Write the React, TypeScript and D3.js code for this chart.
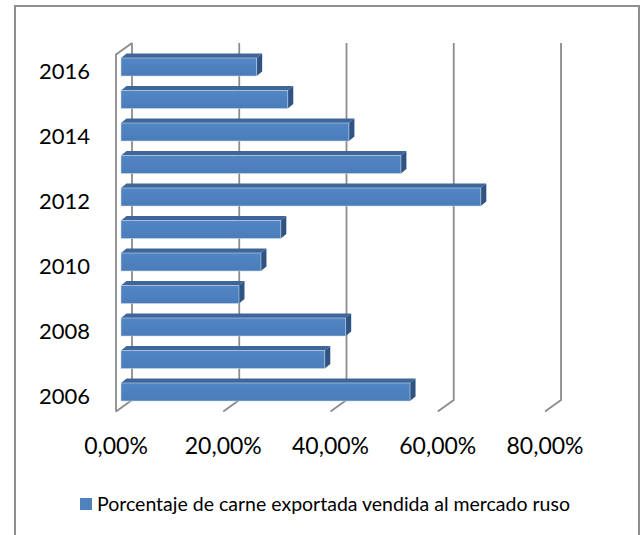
import { useEffect, useRef } from 'react'
import * as d3 from 'd3'

// Share of exported meat sold to the Russian market, by year
const years = [2006, 2007, 2008, 2009, 2010, 2011, 2012, 2013, 2014, 2015, 2016]
const shares = [0.539, 0.38, 0.419, 0.22, 0.261, 0.298, 0.671, 0.522, 0.425, 0.311, 0.253]
const xTicks = [0, 0.2, 0.4, 0.6, 0.8]
const yLabelYears = [2006, 2008, 2010, 2012, 2014, 2016]
const legendLabel = 'Porcentaje de carne exportada vendida al mercado ruso'

const W = 641
const H = 535
const FONT = 'Lato, "Open Sans", sans-serif'

export default function App() {
  const svgRef = useRef<SVGSVGElement>(null)

  useEffect(() => {
    const svg = d3.select(svgRef.current)
    if (!svgRef.current) return
    svg.selectAll('*').remove()

    // oblique 3d: back wall vs front plane offset
    const depth = { dx: 16, dy: -11.5 }
    const wallTop = 43
    const wallBottom = 400

    // x scale for the back wall
    const xBack = d3.scaleLinear().domain([0, 0.8]).range([132, 561])
    const xFront = (v: number) => xBack(v) - depth.dx
    // bars sit a bit behind the front plane
    const barOff = 5
    const xBar = (v: number) => xFront(v) + barOff

    const y = d3.scaleBand<number>()
      .domain([...years].reverse())
      .range([50.75, 408.25])
      .paddingInner(0.446)
      .paddingOuter(0.223)

    const grid = '#8c8c8c'

    // outer frame
    svg.append('path')
      .attr('d', `M15,${H + 5}V6H639V${H + 5}`)
      .attr('fill', 'none')
      .attr('stroke', '#8e8e8e')
      .attr('stroke-width', 2)

    // back-wall gridlines with their floor slants
    const gl = svg.append('g').attr('fill', 'none').attr('stroke', grid).attr('stroke-width', 1.8)
    xTicks.forEach(t => {
      gl.append('path')
        .attr('d', `M${xBack(t)},${wallTop}V${wallBottom}L${xFront(t)},${wallBottom - depth.dy}`)
    })
    // left side wall edge
    gl.append('path')
      .attr('d', `M${xBack(0)},${wallTop}L${xFront(0)},${wallTop - depth.dy}V${wallBottom - depth.dy}`)

    // bars
    const bdx = 5.5
    const bdy = -4.5
    const defs = svg.append('defs')
    const grad = defs.append('linearGradient').attr('id', 'barFront')
      .attr('x1', 0).attr('y1', 0).attr('x2', 0).attr('y2', 1)
    grad.append('stop').attr('offset', '0%').attr('stop-color', '#5286c4')
    grad.append('stop').attr('offset', '100%').attr('stop-color', '#4a7cb9')

    const bars = svg.append('g')
    years.forEach((yr, i) => {
      const x0 = xBar(0)
      const x1 = xBar(shares[i])
      const y0 = y(yr)!
      const h = y.bandwidth()
      const g = bars.append('g')
      // top face
      g.append('path')
        .attr('d', `M${x0},${y0}L${x0 + bdx},${y0 + bdy}L${x1 + bdx},${y0 + bdy}L${x1},${y0}Z`)
        .attr('fill', '#3e6698')
      // side face
      g.append('path')
        .attr('d', `M${x1},${y0}L${x1 + bdx},${y0 + bdy}L${x1 + bdx},${y0 + h + bdy}L${x1},${y0 + h}Z`)
        .attr('fill', '#2f5382')
      // front face
      g.append('rect')
        .attr('x', x0).attr('y', y0)
        .attr('width', x1 - x0).attr('height', h)
        .attr('fill', 'url(#barFront)')
        .attr('stroke', '#c9d8ec').attr('stroke-opacity', 0.7).attr('stroke-width', 0.8)
    })

    // y labels
    const yl = svg.append('g')
      .attr('font-family', FONT).attr('font-size', 22).attr('fill', '#000')
      .attr('text-anchor', 'end')
    yLabelYears.forEach(yr => {
      yl.append('text')
        .attr('x', 90)
        .attr('y', y(yr)! + y.bandwidth() / 2 + 4.5)
        .attr('dy', '0.36em')
        .text(yr)
    })

    // x labels
    const fmt = (v: number) => (v * 100).toFixed(2).replace('.', ',') + '%'
    const xl = svg.append('g')
      .attr('font-family', FONT).attr('font-size', 23).attr('fill', '#000')
      .attr('text-anchor', 'middle')
    xTicks.forEach(t => {
      xl.append('text')
        .attr('x', xFront(t))
        .attr('y', 446)
        .attr('dy', '0.36em')
        .text(fmt(t))
    })

    // legend
    const lg = svg.append('g')
    lg.append('rect').attr('x', 80).attr('y', 498).attr('width', 12).attr('height', 12).attr('fill', '#4f81bd')
    lg.append('text')
      .attr('x', 97).attr('y', 504)
      .attr('dy', '0.36em')
      .attr('font-family', FONT).attr('font-size', 19.5).attr('fill', '#000')
      .text(legendLabel)
  }, [])

  return (
    <svg
      ref={svgRef}
      width={W}
      height={H}
      style={{ position: 'absolute', left: 0, top: 0, background: '#fff', display: 'block' }}
    />
  )
}
